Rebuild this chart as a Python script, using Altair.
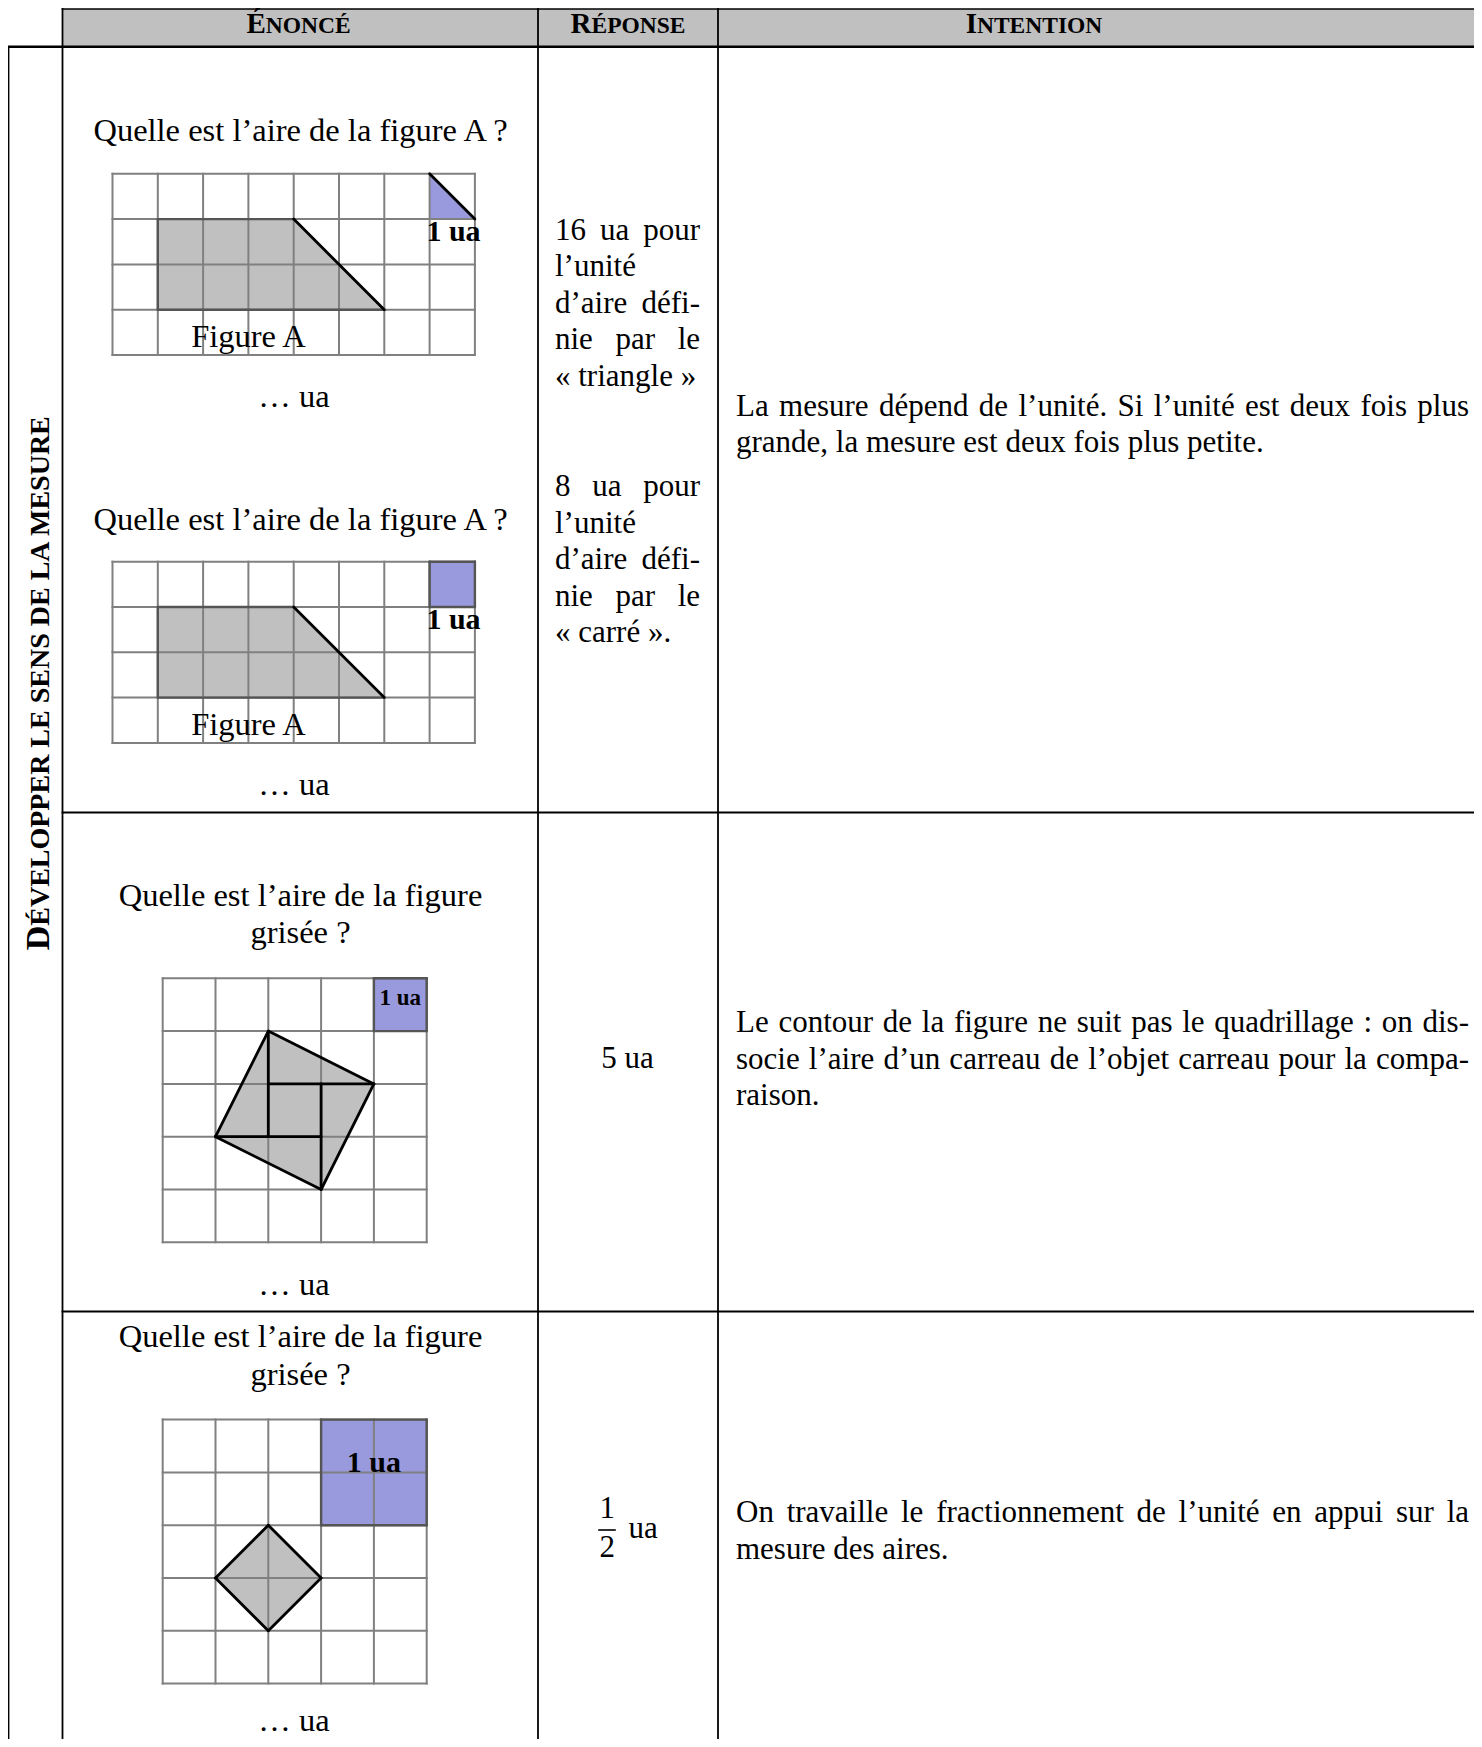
import altair as alt
import pandas as pd

# ---------------- data ----------------
header_big = ["É", "R", "I"]
header_small = ["NONCÉ", "ÉPONSE", "NTENTION"]
label_big = "D"
label_small = "ÉVELOPPER LE SENS DE LA MESURE"

question_lines = [
    ["Quelle est l’aire de la figure A ?"],
    ["Quelle est l’aire de la figure A ?"],
    ["Quelle est l’aire de la figure", "grisée ?"],
    ["Quelle est l’aire de la figure", "grisée ?"],
]
figure_names = ["Figure A", "Figure A"]
blank_answer = "… ua"
unit_label = "1 ua"

grid_cols = [8, 8, 5, 5]
grid_rows = [4, 4, 5, 5]

# shaded figures, in grid units (x, top edge, bottom edge)
shape_x = [[1, 4, 6], [1, 4, 6], [1, 2, 3, 4], [1, 2, 3]]
shape_top = [[1, 1, 3], [1, 1, 3], [3, 1, 1.5, 2], [3, 2, 3]]
shape_bot = [[3, 3, 3], [3, 3, 3], [3, 3.5, 4, 2], [3, 4, 3]]

# unit of area (triangle, square, square, 2x2 square)
unit_x = [[7, 8], [7, 8], [4, 5], [3, 5]]
unit_top = [[0, 1], [0, 0], [0, 0], [0, 0]]
unit_bot = [[1, 1], [1, 1], [1, 1], [2, 2]]

black_edges = [
    [(4, 1, 6, 3), (7, 0, 8, 1)],
    [(4, 1, 6, 3)],
    [(2, 1, 4, 2), (4, 2, 3, 4), (3, 4, 1, 3), (1, 3, 2, 1),
     (2, 1, 2, 3), (2, 2, 4, 2), (3, 2, 3, 4), (1, 3, 3, 3)],
    [(2, 2, 3, 3), (3, 3, 2, 4), (2, 4, 1, 3), (1, 3, 2, 2)],
]
dark_edges = [
    [(4, 1, 1, 1), (1, 1, 1, 3), (1, 3, 6, 3)],
    [(4, 1, 1, 1), (1, 1, 1, 3), (1, 3, 6, 3),
     (7, 0, 8, 0), (8, 0, 8, 1), (8, 1, 7, 1), (7, 1, 7, 0)],
    [(4, 0, 5, 0), (5, 0, 5, 1), (5, 1, 4, 1), (4, 1, 4, 0)],
    [(3, 0, 5, 0), (5, 0, 5, 2), (5, 2, 3, 2), (3, 2, 3, 0)],
]

answer_blocks = [
    ["16 ua pour", "l’unité", "d’aire défi-", "nie par le", "« triangle »"],
    ["8 ua pour", "l’unité", "d’aire défi-", "nie par le", "« carré »."],
]
answer_justified = [True, False, True, True, False]
answer_simple = "5 ua"
fraction_num, fraction_den, fraction_unit = "1", "2", "ua"

intentions = [
    ["La mesure dépend de l’unité. Si l’unité est deux fois plus",
     "grande, la mesure est deux fois plus petite."],
    ["Le contour de la figure ne suit pas le quadrillage : on dis-",
     "socie l’aire d’un carreau de l’objet carreau pour la compa-",
     "raison."],
    ["On travaille le fractionnement de l’unité en appui sur la",
     "mesure des aires."],
]

# ---------------- layout (page pixels) ----------------
FONT = "Liberation Serif"
W_PX, H_PX = 1466, 1731
X0, Y0 = 8, 8
X1, Y1 = X0 + W_PX, Y0 + H_PX
RIGHT, BOTTOM = 1482, 1747
TABLE_V = [8.5, 62.5, 538, 718]
TOP, HEAD_BOT, ROW_SEP = 8.9, 46.8, [812.5, 1311.5]
grid_origin = [(112.5, 173.8, 45.3), (112.5, 561.7, 45.3),
               (162.7, 978.3, 52.8), (162.7, 1419.6, 52.8)]
GRID_C, DARK_C, BLACK_C = "#808080", "#555555", "#000000"
SHAPE_C, UNIT_C, HEAD_C = "#c0c0c0", "#9999dd", "#c0c0c0"
BODY, QUEST = 31, 32.5

REG = {" ": 250, ",": 250, "-": 333, ".": 250, ":": 278, "?": 444, "’": 333,
       "«": 500, "»": 500, "…": 1000,
       "a": 444, "b": 500, "c": 444, "d": 500, "e": 444, "f": 333, "g": 500,
       "h": 500, "i": 278, "j": 278, "k": 500, "l": 278, "m": 778, "n": 500,
       "o": 500, "p": 500, "q": 500, "r": 333, "s": 389, "t": 278, "u": 500,
       "v": 500, "w": 722, "x": 500, "y": 500, "z": 444, "é": 444, "è": 444,
       "A": 722, "F": 556, "L": 611, "O": 722, "Q": 722, "S": 556}
BOLD = {" ": 250, "A": 722, "C": 722, "D": 722, "E": 667, "É": 667, "I": 389,
        "L": 667, "M": 944, "N": 722, "O": 778, "P": 611, "R": 722, "S": 556,
        "T": 667, "U": 722, "V": 722}


def tw(s, size, table=REG):
    return sum(table.get(ch, 500) for ch in s) * size / 1000.0


texts = []


def add_text(t, x, y, size, weight="normal", align="center", angle=0):
    texts.append(dict(t=t, x=x, y=y, size=size, weight=weight, align=align, angle=angle))


def add_line(line, left, right, y, size, justify):
    words = line.split(" ")
    if not justify or len(words) == 1:
        add_text(line, left, y, size, align="left")
        return
    widths = [tw(w, size) for w in words]
    gap = (right - left - sum(widths)) / (len(words) - 1)
    pos = left
    for k, (w, wd) in enumerate(zip(words, widths)):
        if k == 0:
            add_text(w, left, y, size, align="left")
        elif k == len(words) - 1:
            add_text(w, right, y, size, align="right")
        else:
            add_text(w, pos + wd / 2, y, size, align="center")
        pos += wd + gap


# header (small caps imitation)
head_centers = [298.5, 628, 1034]
for big, small, cx in zip(header_big, header_small, head_centers):
    S, s = 29, 23.5
    wb, ws = tw(big, S, BOLD), tw(small, s, BOLD)
    x0 = cx - (wb + ws) / 2
    add_text(big, x0, 32.5, S, "bold", "left")
    add_text(small, x0 + wb, 32.5, s, "bold", "left")

# vertical row label
S, s = 34, 28
wb, ws = tw(label_big, S, BOLD), tw(label_small, s, BOLD)
ystart = 682.5 + (wb + ws) / 2
add_text(label_big, 49, ystart, S, "bold", "left", 270)
add_text(label_small, 49, ystart - wb, s, "bold", "left", 270)

# questions
q_base = [[141], [530], [906, 942.7], [1346.7, 1385]]
for lines, ys in zip(question_lines, q_base):
    for ln, yy in zip(lines, ys):
        add_text(ln, 300.5, yy, QUEST)
for name, yy in zip(figure_names, [346.7, 735]):
    add_text(name, 248.5, yy, QUEST)
for yy in [407, 795, 1295, 1731]:
    add_text(blank_answer, 294, yy, QUEST)
for (ux, uy, us) in [(453.5, 241, 30), (453.5, 629.3, 30), (400.3, 1005, 23), (373.9, 1471.7, 30)]:
    add_text(unit_label, ux, uy, us, "bold")

# answers
for block, y_first in zip(answer_blocks, [239.5, 496]):
    for k, (ln, j) in enumerate(zip(block, answer_justified)):
        add_line(ln, 555, 700, y_first + 36.5 * k, BODY, j)
add_text(answer_simple, 627.4, 1068.3, BODY)
add_text(fraction_num, 607.3, 1518.3, BODY)
add_text(fraction_den, 607.3, 1556.7, BODY)
add_text(fraction_unit, 643, 1538.3, BODY)

# intentions
for lines, y_first in zip(intentions, [415.5, 1032, 1522]):
    for k, ln in enumerate(lines):
        add_line(ln, 736, 1469, y_first + 36.5 * k, BODY, k < len(lines) - 1)

tdf = pd.DataFrame(texts)

# ---------------- areas ----------------
areas = []
areas += [dict(id="head", x=62.5, y=TOP, y2=HEAD_BOT, c=HEAD_C),
          dict(id="head", x=RIGHT, y=TOP, y2=HEAD_BOT, c=HEAD_C)]
for i, (ox, oy, c) in enumerate(grid_origin):
    for xs_, ts, bs in zip(shape_x[i], shape_top[i], shape_bot[i]):
        areas.append(dict(id=f"shape{i}", x=ox + xs_ * c, y=oy + ts * c, y2=oy + bs * c, c=SHAPE_C))
    for xs_, ts, bs in zip(unit_x[i], unit_top[i], unit_bot[i]):
        areas.append(dict(id=f"unit{i}", x=ox + xs_ * c, y=oy + ts * c, y2=oy + bs * c, c=UNIT_C))
adf = pd.DataFrame(areas)

# ---------------- rules ----------------
grid_rules, fig_rules = [], []
for i, (ox, oy, c) in enumerate(grid_origin):
    nc, nr = grid_cols[i], grid_rows[i]
    for k in range(nc + 1):
        grid_rules.append(dict(x=ox + k * c, y=oy, x2=ox + k * c, y2=oy + nr * c, c=GRID_C, w=2))
    for k in range(nr + 1):
        grid_rules.append(dict(x=ox, y=oy + k * c, x2=ox + nc * c, y2=oy + k * c, c=GRID_C, w=2))
    for (a, b, d, e) in dark_edges[i]:
        fig_rules.append(dict(x=ox + a * c, y=oy + b * c, x2=ox + d * c, y2=oy + e * c, c=DARK_C, w=2.4))
    for (a, b, d, e) in black_edges[i]:
        fig_rules.append(dict(x=ox + a * c, y=oy + b * c, x2=ox + d * c, y2=oy + e * c, c=BLACK_C, w=2.8))

table_rules = [
    dict(x=TABLE_V[0], y=HEAD_BOT, x2=TABLE_V[0], y2=BOTTOM, c=BLACK_C, w=1.8),
]
for xv in TABLE_V[1:]:
    table_rules.append(dict(x=xv, y=TOP, x2=xv, y2=BOTTOM, c=BLACK_C, w=1.8))
table_rules.append(dict(x=62.5, y=TOP, x2=RIGHT, y2=TOP, c=BLACK_C, w=1.5))
table_rules.append(dict(x=TABLE_V[0], y=HEAD_BOT, x2=RIGHT, y2=HEAD_BOT, c=BLACK_C, w=2.6))
for yr in ROW_SEP:
    table_rules.append(dict(x=62.5, y=yr, x2=RIGHT, y2=yr, c=BLACK_C, w=1.8))
table_rules.append(dict(x=599, y=1530, x2=615, y2=1530, c=BLACK_C, w=1.6))

xsc = alt.Scale(domain=[X0, X1], nice=False, zero=False)
ysc = alt.Scale(domain=[Y0, Y1], nice=False, zero=False, reverse=True)


def rule_layer(df, cap):
    return alt.Chart(pd.DataFrame(df)).mark_rule(strokeCap=cap).encode(
        x=alt.X("x:Q", scale=xsc, axis=None),
        y=alt.Y("y:Q", scale=ysc, axis=None),
        x2="x2:Q", y2="y2:Q",
        color=alt.Color("c:N", scale=None),
        strokeWidth=alt.StrokeWidth("w:Q", scale=None),
    )


layers = [
    alt.Chart(adf).mark_area(interpolate="linear").encode(
        x=alt.X("x:Q", scale=xsc, axis=None),
        y=alt.Y("y:Q", scale=ysc, axis=None, stack=None),
        y2="y2:Q",
        detail="id:N",
        color=alt.Color("c:N", scale=None),
    ),
    rule_layer(grid_rules, "square"),
    rule_layer(fig_rules, "round"),
    rule_layer(table_rules, "square"),
]

for (w, a, ang), sub in tdf.groupby(["weight", "align", "angle"]):
    layers.append(
        alt.Chart(sub.reset_index(drop=True)).mark_text(
            font=FONT, baseline="alphabetic", align=str(a), fontWeight=str(w),
            angle=int(ang), color="black",
        ).encode(
            x=alt.X("x:Q", scale=xsc, axis=None),
            y=alt.Y("y:Q", scale=ysc, axis=None),
            text="t:N",
            size=alt.Size("size:Q", scale=None),
        )
    )

chart = alt.layer(*layers).properties(
    width=W_PX, height=H_PX, padding=0,
    autosize=alt.AutoSizeParams(type="none"),
    background="white",
).configure_view(stroke=None)

chart.save("out.html", embed_options={"renderer": "svg", "actions": False})
